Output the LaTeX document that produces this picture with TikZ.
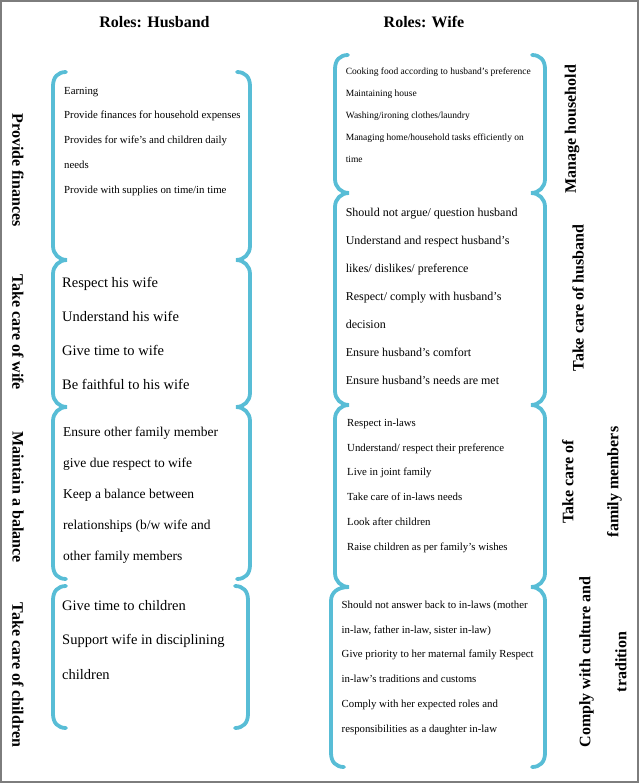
\documentclass[tikz,border=0pt]{standalone}
\usepackage{fontspec}
\setmainfont{Liberation Serif}
\definecolor{brc}{RGB}{88,189,214}
\definecolor{framec}{RGB}{125,125,125}
\newcommand\bTop[3]{({#1+(#2)*13},{#3}) .. controls ({#1+(#2)*5},{#3}) and ({#1},{#3+5}) .. ({#1},{#3+14})}
\newcommand\bJoin[3]{-- ({#1},{#3-14}) .. controls ({#1},{#3-6}) and ({#1+(#2)*6},{#3}) .. ({#1+(#2)*14},{#3}) .. controls ({#1+(#2)*6},{#3}) and ({#1},{#3+6}) .. ({#1},{#3+14})}
\newcommand\bJoinX[4]{-- ({#1},{#4-14}) .. controls ({#1},{#4-6}) and ({#1+(#3)*6},{#4}) .. ({#1+(#3)*14},{#4}) .. controls ({#2+(#3)*6},{#4}) and ({#2},{#4+6}) .. ({#2},{#4+14})}
\newcommand\bBot[3]{-- ({#1},{#3-14}) .. controls ({#1},{#3-5}) and ({#1+(#2)*5},{#3}) .. ({#1+(#2)*13},{#3})}
\newcommand\tblock[6]{%
  \foreach \t [count=\i] in {#6} {\node[txt, font=\fontsize{#5}{#5}\selectfont] (#1-\i) at ({#2}, {#3+(\i-1)*#4}) {\t};}}
\begin{document}
\begin{tikzpicture}[x=1pt,y=-1pt,
  brk/.style={draw=brc, line width=3.8pt, line cap=round},
  lab/.style={font=\fontsize{16}{19}\selectfont\bfseries, inner sep=0, align=center},
  txt/.style={anchor=base west, inner sep=0}]
\useasboundingbox (0,0) rectangle (639,783);
\draw[framec, line width=2pt] (1,1) rectangle (638,782);

% titles
\node[lab] (th) at (154.5,22) {Roles: Husband};
\node[lab] (tw) at (424,22) {Roles: Wife};

% husband brackets
\draw[brk] \bTop{53}{1}{72} \bJoin{53}{1}{260} \bJoin{53}{1}{407} \bBot{53}{1}{579};
\draw[brk] \bTop{53}{1}{586} \bBot{53}{1}{728};
\draw[brk] \bTop{250}{-1}{72} \bJoin{250}{-1}{260} \bJoin{250}{-1}{407} \bBot{250}{-1}{579};
\draw[brk] \bTop{248}{-1}{586} \bBot{248}{-1}{728};

% wife brackets
\draw[brk] \bTop{335}{1}{55} \bJoin{335}{1}{193} \bJoin{335}{1}{405} \bJoinX{335}{331}{1}{587} \bBot{331}{1}{767};
\draw[brk] \bTop{545}{-1}{55} \bJoin{545}{-1}{193} \bJoin{545}{-1}{405} \bJoin{545}{-1}{587} \bBot{545}{-1}{767};

% labels husband
\node[lab, rotate=-90] (lh1) at (18,170) {Provide finances};
\node[lab, rotate=-90] (lh2) at (18,332) {Take care of wife};
\node[lab, rotate=-90] (lh3) at (18,497) {Maintain a balance};
\node[lab, rotate=-90] (lh4) at (18,675) {Take care of children};
% labels wife
\node[lab, rotate=90] (lw1) at (572,129) {Manage household};
\node[lab, rotate=90] (lw2) at (578,298) {Take care of husband};
\node[lab, rotate=90, font=\fontsize{16}{45}\selectfont\bfseries] (lw3) at (592,482) {Take care of\\family members};
\node[lab, rotate=90, font=\fontsize{16}{36}\selectfont\bfseries] (lw4) at (603,662) {Comply with culture and\\tradition};

% husband texts
\tblock{h1}{64}{94.3}{24.7}{10.8}{Earning, Provide finances for household expenses, Provides for wife’s and children daily, needs, Provide with supplies on time/in time}
\tblock{h2}{62}{287.4}{34}{14.5}{Respect his wife, Understand his wife, Give time to wife, Be faithful to his wife}
\tblock{h3}{63}{436}{31}{13.5}{Ensure other family member, give due respect to wife, Keep a balance between, relationships (b/w wife and, other family members}
\tblock{h4}{62}{610.4}{34.5}{14.5}{Give time to children, Support wife in disciplining, children}

% wife texts
\tblock{w1}{345.6}{75}{21.8}{9.5}{Cooking food according to husband’s preference, Maintaining house, Washing/ironing clothes/laundry, Managing home/household tasks efficiently on, time}
\tblock{w2}{345.6}{216.6}{28}{12}{Should not argue/ question husband, Understand and respect husband’s, likes/ dislikes/ preference, Respect/ comply with husband’s, decision, Ensure husband’s comfort, Ensure husband’s needs are met}
\tblock{w3}{347}{426.3}{24.8}{10.8}{Respect in-laws, Understand/ respect their preference, Live in joint family, Take care of in-laws needs, Look after children, Raise children as per family’s wishes}
\tblock{w4}{341.5}{608.3}{24.8}{10.8}{Should not answer back to in-laws (mother, {in-law, father in-law, sister in-law)}, Give priority to her maternal family Respect, in-law’s traditions and customs, Comply with her expected roles and, responsibilities as a daughter in-law}
\end{tikzpicture}
\end{document}
